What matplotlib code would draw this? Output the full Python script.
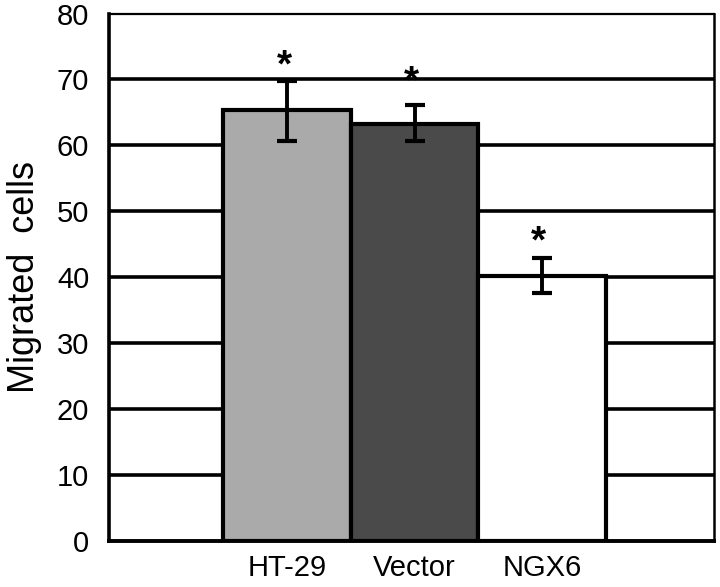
import matplotlib.pyplot as plt

plt.rcParams['font.family'] = ['Liberation Sans', 'DejaVu Sans']

# data
groups = ['HT-29', 'Vector', 'NGX6']
means = [65.4, 63.2, 40.2]
err_low = [4.8, 2.6, 2.5]
err_high = [4.3, 2.9, 2.8]
star_y = [70.5, 68.0, 43.7]  # baseline of the significance stars
colors = ['#aaaaaa', '#4a4a4a', '#ffffff']

fig = plt.figure(figsize=(7.2, 5.87), dpi=100)
ax = fig.add_axes([0.151, 0.078, 0.841, 0.899])

x = list(range(len(groups)))

# horizontal grid lines behind the bars
for v in range(10, 80, 10):
    ax.axhline(v, color='black', lw=2.6, zorder=0)

ax.bar(x, means, width=1.0, color=colors, edgecolor='black', linewidth=3.0, zorder=2)
ax.errorbar(x, means, yerr=[err_low, err_high], fmt='none', ecolor='black',
            elinewidth=2.8, capsize=7.5, capthick=3.0, zorder=3)

for xi, sy in zip(x, star_y):
    ax.text(xi - 0.025, sy, '*', ha='center', va='baseline', fontsize=28,
            fontweight='bold', zorder=4)

ax.set_xlim(-1.4, 3.35)
ax.set_ylim(0, 80)
ax.set_yticks(range(0, 90, 10))
ax.set_xticks(x)
ax.set_xticklabels(groups, fontsize=21)
ax.tick_params(axis='both', length=0)
ax.tick_params(axis='y', pad=14, labelsize=21)
ax.tick_params(axis='x', pad=9)
ax.set_ylabel('Migrated  cells', fontsize=26, labelpad=11)

ax.spines['left'].set_linewidth(2.6)
ax.spines['bottom'].set_linewidth(2.8)
ax.spines['top'].set_linewidth(1.6)
ax.spines['right'].set_linewidth(1.8)

fig.savefig('out.png', dpi=100)
